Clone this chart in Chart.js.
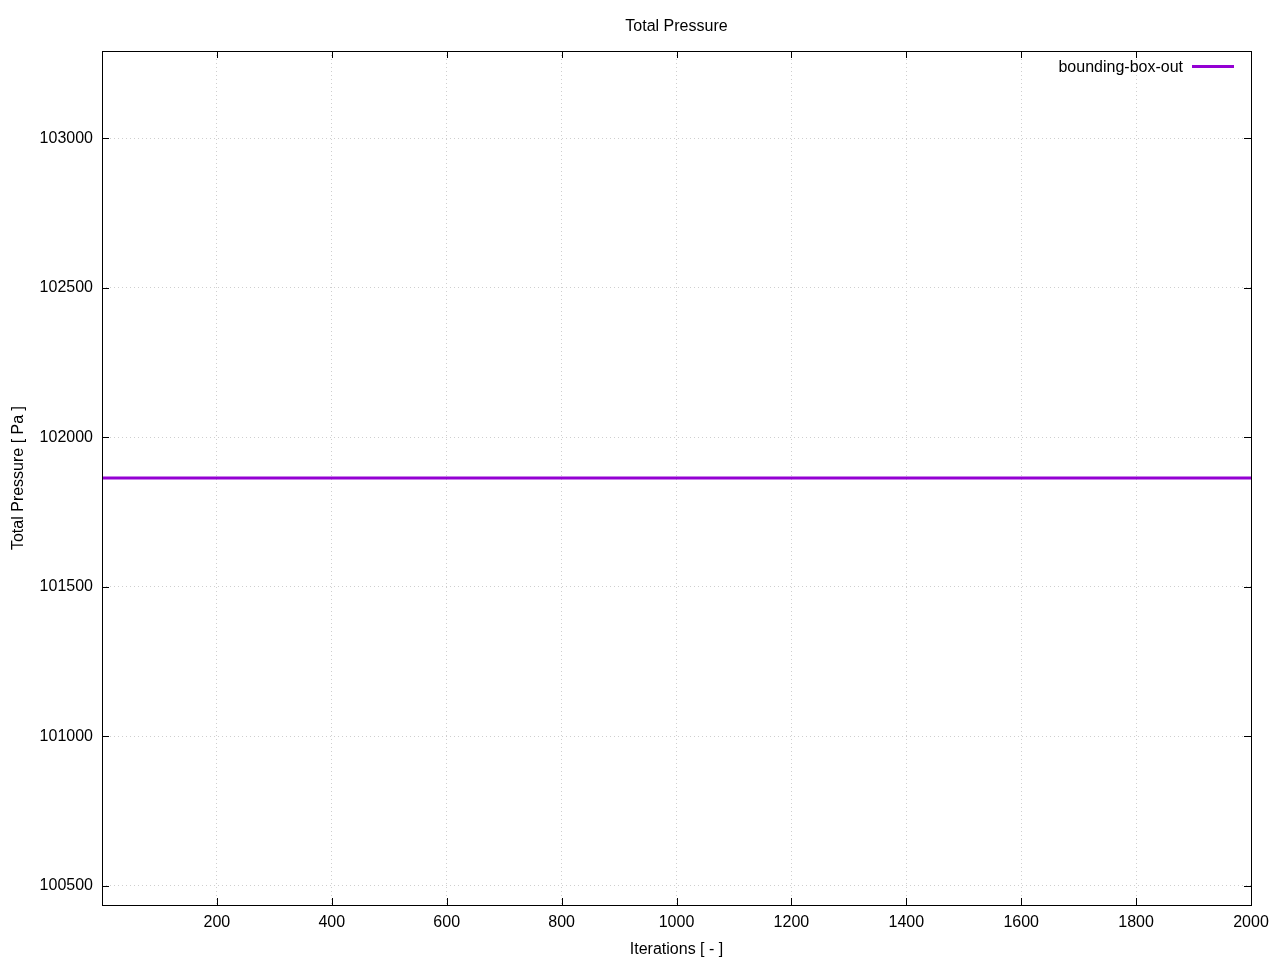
<!DOCTYPE html>
<html>
<head>
<meta charset="utf-8">
<script src="https://cdn.jsdelivr.net/npm/chart.js@4/dist/chart.umd.min.js"></script>
<style>
  html, body { margin: 0; padding: 0; background: #ffffff; }
  #wrap { width: 1280px; height: 960px; }
</style>
</head>
<body>
<div id="wrap"><canvas id="c" width="1280" height="960"></canvas></div>
<script>
// ---- data ----
const chartTitle = "Total Pressure";
const xAxisTitle = "Iterations [ - ]";
const yAxisTitle = "Total Pressure [ Pa ]";
const seriesLabel = "bounding-box-out";
const iterations = [1, 2000];
const totalPressure = [101864, 101864];
const xTickValues = [200, 400, 600, 800, 1000, 1200, 1400, 1600, 1800, 2000];
const yTickValues = [100500, 101000, 101500, 102000, 102500, 103000];
const xRange = [0, 2000];
const yRange = [100436, 103292];

const FONT = "'Liberation Sans', Arial, sans-serif";
const lineColor = "#9400D3";

const gnuplotFrame = {
  id: 'gnuplotFrame',
  afterDraw(chart) {
    const ctx = chart.ctx;
    const a = chart.chartArea;
    const xs = chart.scales.x, ys = chart.scales.y;
    const tl = 7;
    ctx.save();
    // title centred over the plot area
    ctx.font = "16px " + FONT;
    ctx.fillStyle = '#000';
    ctx.textAlign = 'center';
    ctx.textBaseline = 'middle';
    ctx.fillText(chartTitle, (a.left + a.right) / 2, 27);

    ctx.strokeStyle = '#000';
    ctx.lineWidth = 1;
    ctx.beginPath();
    xTickValues.forEach(v => {
      const px = Math.round(xs.getPixelForValue(v)) + 0.5;
      ctx.moveTo(px, a.bottom); ctx.lineTo(px, a.bottom - tl);
      ctx.moveTo(px, a.top); ctx.lineTo(px, a.top + tl);
    });
    yTickValues.forEach(v => {
      const py = Math.round(ys.getPixelForValue(v)) + 0.5;
      ctx.moveTo(a.left, py); ctx.lineTo(a.left + tl, py);
      ctx.moveTo(a.right, py); ctx.lineTo(a.right - tl, py);
    });
    ctx.stroke();
    ctx.strokeRect(Math.round(a.left) + 0.5, Math.round(a.top) + 0.5,
                   Math.round(a.right - a.left), Math.round(a.bottom - a.top));
    // legend (gnuplot style: text then sample)
    const ds = chart.data.datasets[0];
    ctx.textAlign = 'right';
    ctx.fillText(ds.label, 1183, 68);
    ctx.strokeStyle = ds.borderColor;
    ctx.lineWidth = 3;
    ctx.beginPath();
    ctx.moveTo(1192, 66.5); ctx.lineTo(1234, 66.5);
    ctx.stroke();
    ctx.restore();
  }
};

new Chart(document.getElementById('c'), {
  type: 'line',
  data: {
    datasets: [{
      label: seriesLabel,
      data: iterations.map((x, i) => ({ x: x, y: totalPressure[i] })),
      borderColor: lineColor,
      backgroundColor: lineColor,
      borderWidth: 3,
      pointRadius: 0,
      fill: false,
      tension: 0
    }]
  },
  options: {
    responsive: false,
    animation: false,
    events: [],
    layout: { padding: { left: 0, right: 29, top: 51, bottom: 0 } },
    plugins: {
      legend: { display: false },
      tooltip: { enabled: false },
      title: { display: false }
    },
    scales: {
      x: {
        type: 'linear',
        min: xRange[0], max: xRange[1],
        afterBuildTicks: s => { s.ticks = xTickValues.map(v => ({ value: v })); },
        afterFit: s => { s.height = 55; },
        border: { display: false, dash: [1, 3] },
        grid: { color: '#cfcfcf', lineWidth: 1, drawTicks: false, tickLength: 0 },
        ticks: {
          color: '#000', padding: 8, maxRotation: 0, autoSkip: false,
          font: { family: FONT, size: 16 },
          callback: v => String(v)
        },
        title: {
          display: true, text: xAxisTitle, color: '#000',
          font: { family: FONT, size: 16 },
          padding: { top: 0, bottom: 1 }
        }
      },
      y: {
        type: 'linear',
        min: yRange[0], max: yRange[1],
        afterBuildTicks: s => { s.ticks = yTickValues.map(v => ({ value: v })); },
        afterFit: s => { s.width = 102; },
        border: { display: false, dash: [1, 3] },
        grid: { color: '#cfcfcf', lineWidth: 1, drawTicks: false, tickLength: 0 },
        ticks: {
          color: '#000', padding: 9, autoSkip: false,
          font: { family: FONT, size: 16 },
          callback: v => String(v)
        },
        title: {
          display: true, text: yAxisTitle, color: '#000',
          font: { family: FONT, size: 16 },
          padding: { top: 9, bottom: 0 }
        }
      }
    }
  },
  plugins: [gnuplotFrame]
});
</script>
</body>
</html>
